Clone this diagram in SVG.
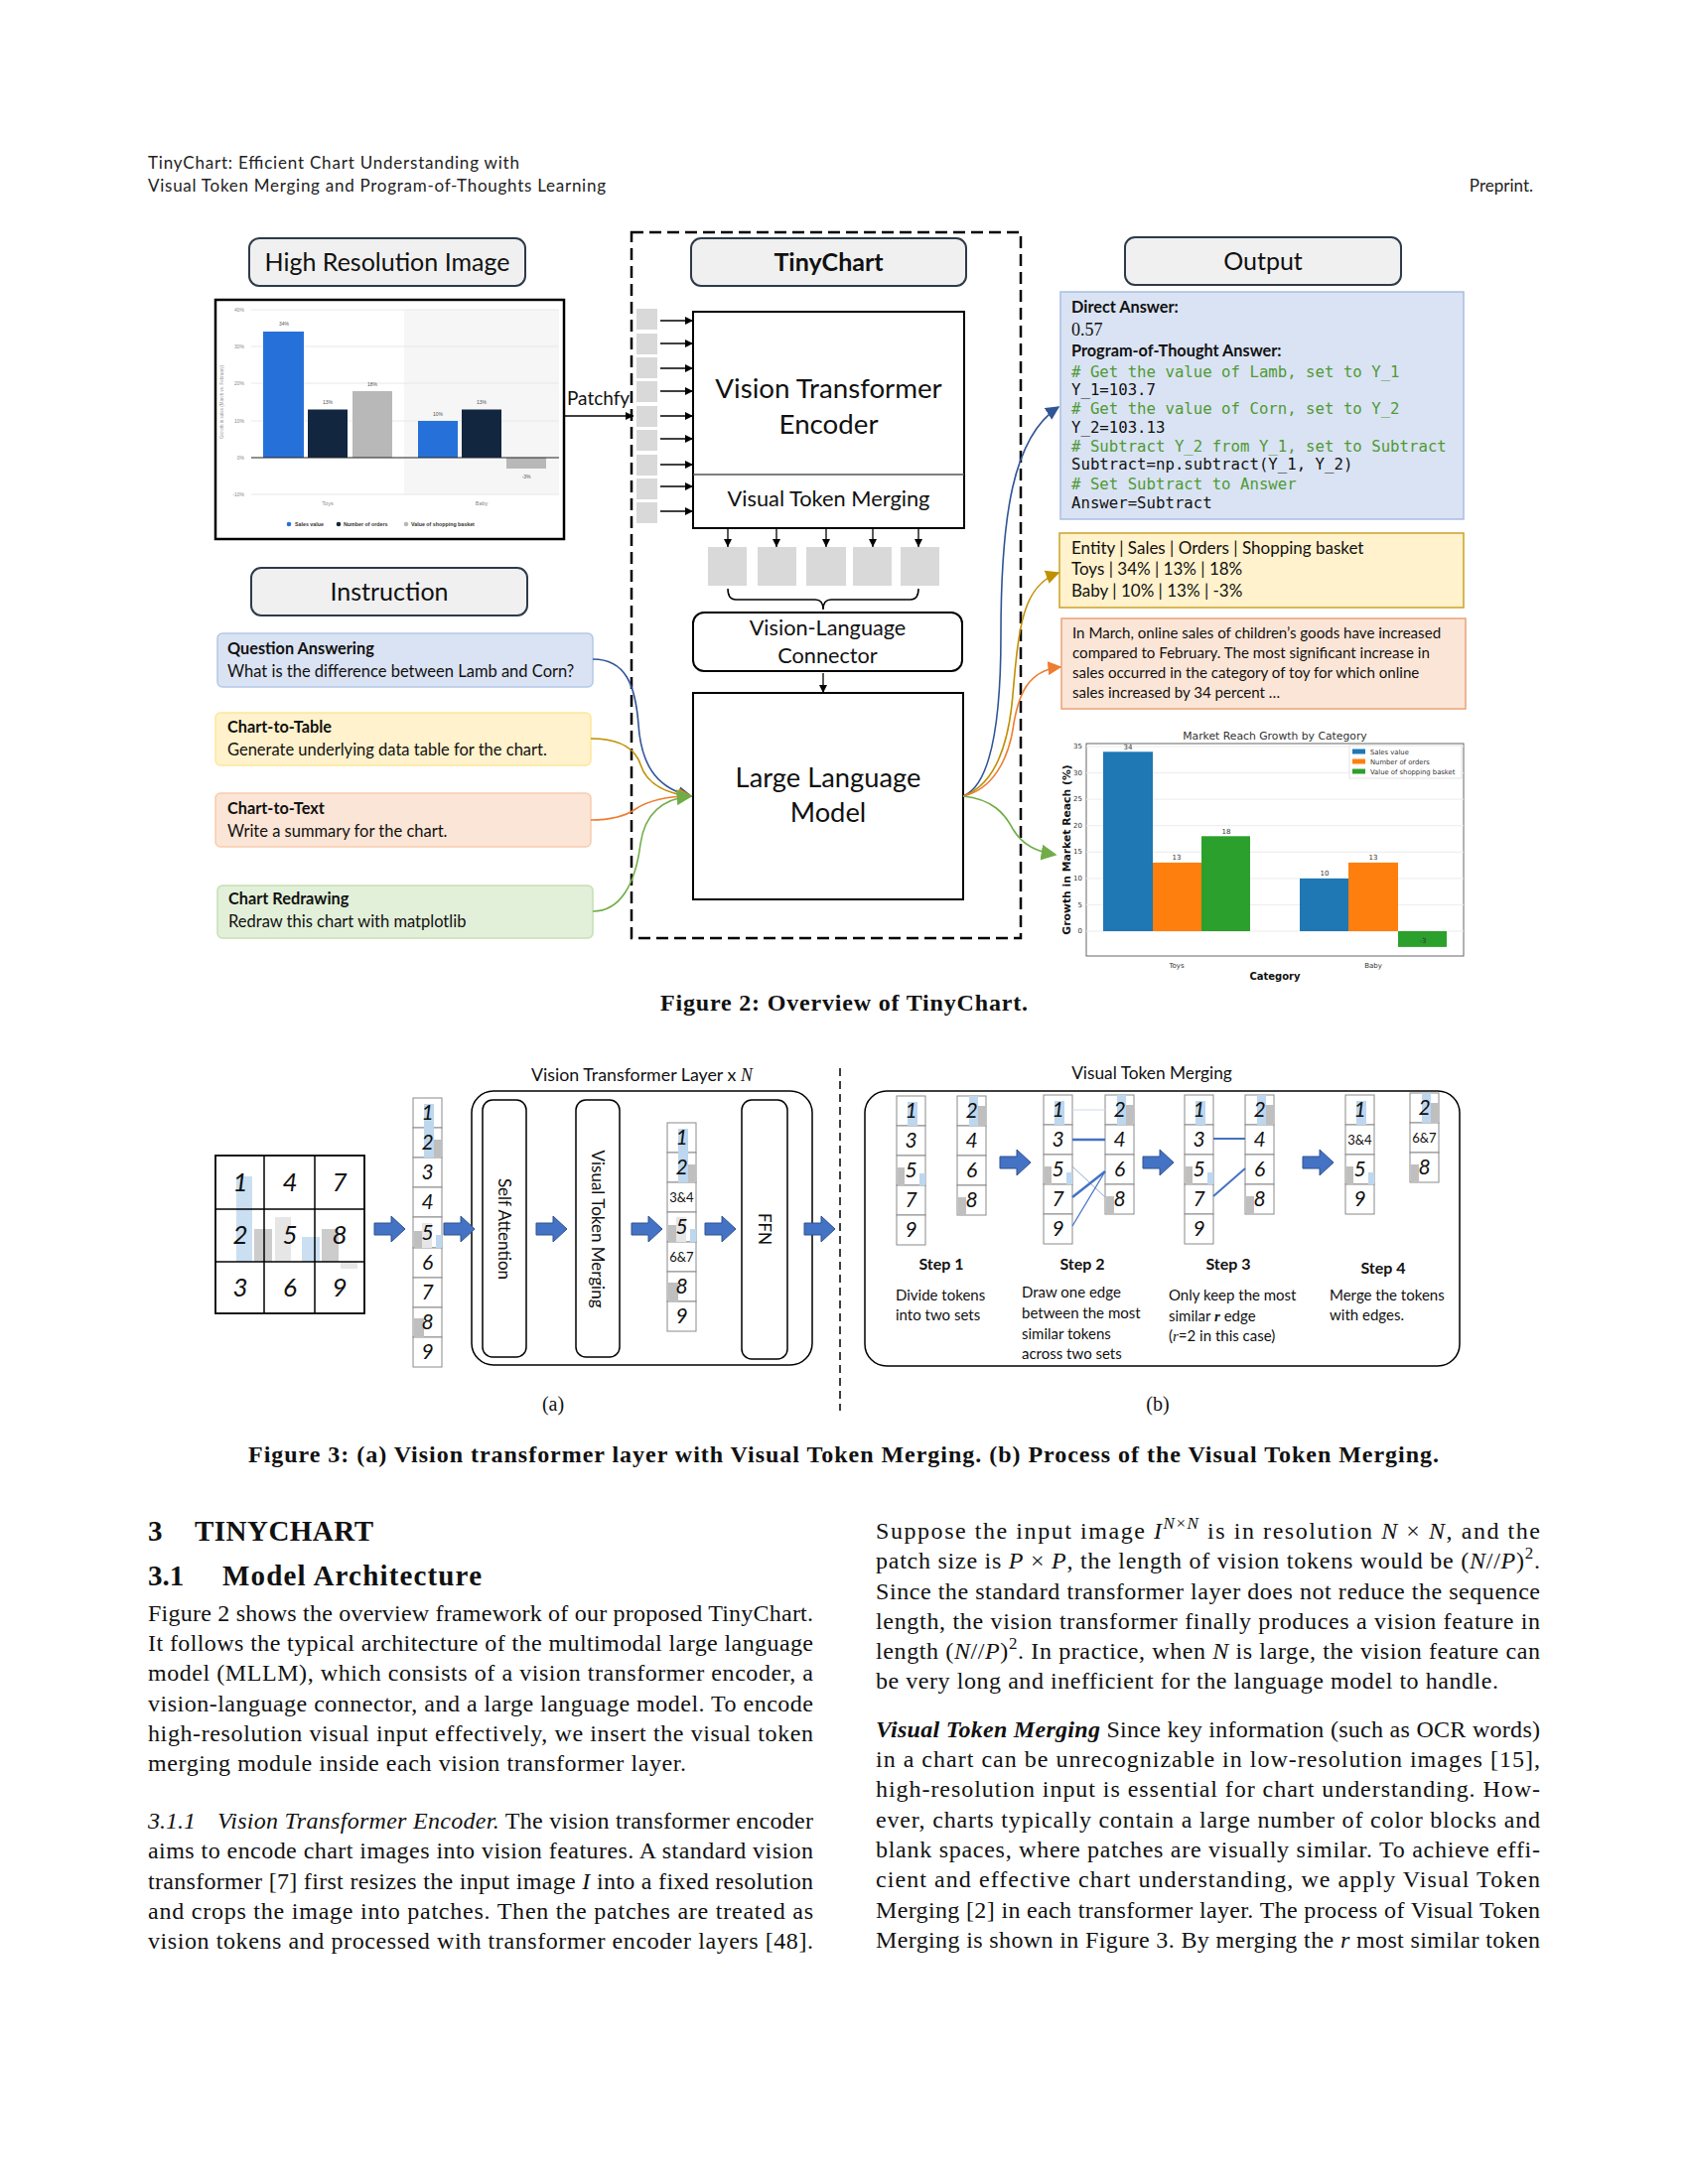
<svg xmlns="http://www.w3.org/2000/svg" xmlns:xlink="http://www.w3.org/1999/xlink" width="1700" height="2200" viewBox="0 0 1700 2200">
<style>
.sans{font-family:Lato,"Open Sans","Liberation Sans",sans-serif}
.serif{font-family:"Liberation Serif","Times New Roman",serif}
.mono{font-family:"DejaVu Sans Mono","Liberation Mono",monospace}
.dv{font-family:"DejaVu Sans","Liberation Sans",sans-serif}
.hdr{font-family:Lato,"Liberation Sans",sans-serif;font-size:17px;fill:#222}
.title{font-family:Lato,"Open Sans",sans-serif;font-size:25px;fill:#111;text-anchor:middle}
.tbox{fill:#f0f0f0;stroke:#2e3a4b;stroke-width:2}
.blk{fill:#fff;stroke:#000;stroke-width:2}
.patch{fill:#d9d9d9}
.tok{fill:#fff;stroke:#8a8a8a;stroke-width:1}
.num{font-family:Lato,"Open Sans",sans-serif;font-style:italic;font-size:21px;fill:#111;text-anchor:middle}
.mrg{font-family:Lato,"Open Sans",sans-serif;font-size:13px;fill:#111;text-anchor:middle}
.gnum{font-family:Lato,"Open Sans",sans-serif;font-style:italic;font-size:26px;fill:#111;text-anchor:middle}
.ib{font-family:Lato,"Open Sans",sans-serif;font-size:16.3px;font-weight:bold;fill:#111}
.ir{font-family:Lato,"Open Sans",sans-serif;font-size:16.5px;fill:#111}
.code{font-family:"DejaVu Sans Mono","Liberation Mono",monospace;font-size:15.7px;fill:#111}
.cmt{fill:#4f9a35}
.desc{font-family:Lato,"Open Sans",sans-serif;font-size:15px;fill:#111}
.step{font-family:Lato,"Open Sans",sans-serif;font-size:16px;font-weight:bold;fill:#111;text-anchor:middle}
.body{font-family:"Liberation Serif","Times New Roman",serif;font-size:24px;fill:#111}
.cap{font-family:"Liberation Serif","Times New Roman",serif;font-size:24px;font-weight:bold;fill:#111}
.tiny{font-family:"Liberation Sans",sans-serif;font-size:5px;fill:#555}
.mpl{font-family:"DejaVu Sans","Liberation Sans",sans-serif;font-size:7px;fill:#333}
.grid{stroke:#e8e8e8;stroke-width:1}
.curve{fill:none;stroke-width:1.6}
</style>
<defs>
<marker id="ah" viewBox="0 0 10 10" refX="10" refY="5" markerWidth="8" markerHeight="8" markerUnits="userSpaceOnUse" orient="auto"><path d="M0,0 L10,5 L0,10 z" fill="#000"/></marker>
<marker id="ahB" viewBox="0 0 10 10" refX="9" refY="5" markerWidth="14" markerHeight="14" markerUnits="userSpaceOnUse" orient="auto"><path d="M0,0 L10,5 L0,10 z" fill="#2f5597"/></marker>
<marker id="ahY" viewBox="0 0 10 10" refX="9" refY="5" markerWidth="14" markerHeight="14" markerUnits="userSpaceOnUse" orient="auto"><path d="M0,0 L10,5 L0,10 z" fill="#bf9000"/></marker>
<marker id="ahO" viewBox="0 0 10 10" refX="9" refY="5" markerWidth="14" markerHeight="14" markerUnits="userSpaceOnUse" orient="auto"><path d="M0,0 L10,5 L0,10 z" fill="#ed7d31"/></marker>
<marker id="ahG" viewBox="0 0 10 10" refX="9" refY="5" markerWidth="16" markerHeight="16" markerUnits="userSpaceOnUse" orient="auto"><path d="M0,0 L10,5 L0,10 z" fill="#70ad47"/></marker>
<path id="ba" d="M0,-6 H17 V-13 L31,0 L17,13 V6 H0 Z" fill="#4472c4" stroke="#2f528f" stroke-width="1"/>
</defs>
<rect width="1700" height="2200" fill="#fff"/>

<!-- Header -->
<g id="header">
<text x="149" y="170" class="hdr" textLength="374">TinyChart: Efficient Chart Understanding with</text>
<text x="149" y="193" class="hdr" textLength="461">Visual Token Merging and Program-of-Thoughts Learning</text>
<text x="1544" y="193" class="hdr" text-anchor="end">Preprint.</text>
</g>

<!-- ============ Figure 2 ============ -->
<g id="hri-title"><rect x="251" y="240" width="278" height="48" rx="10" class="tbox"/><text x="390" y="273" class="title">High Resolution Image</text></g>

<g id="input-chart">
<rect x="217" y="302" width="351" height="241" fill="#fff" stroke="#000" stroke-width="2.5"/>
<rect x="407" y="312" width="156" height="186" fill="#f6f6f6"/>
<line x1="253" y1="312" x2="563" y2="312" class="grid"/>
<line x1="253" y1="349" x2="563" y2="349" class="grid"/>
<line x1="253" y1="386" x2="563" y2="386" class="grid"/>
<line x1="253" y1="424" x2="563" y2="424" class="grid"/>
<line x1="253" y1="498" x2="563" y2="498" class="grid"/>
<g class="tiny" text-anchor="end" style="fill:#888"><text x="246" y="314">40%</text><text x="246" y="351">30%</text><text x="246" y="388">20%</text><text x="246" y="426">10%</text><text x="246" y="463">0%</text><text x="246" y="500">-10%</text></g>
<text transform="translate(225,405) rotate(-90)" class="tiny" text-anchor="middle" style="font-size:4.5px;fill:#999">Growth in sales (March vs. February)</text>
<rect x="265" y="334" width="41" height="127" fill="#2671d9"/>
<rect x="310" y="412.5" width="40" height="48.5" fill="#12263f"/>
<rect x="355" y="394" width="40" height="67" fill="#b8b8b8"/>
<rect x="421" y="424" width="40" height="37" fill="#2671d9"/>
<rect x="465" y="412.5" width="40" height="48.5" fill="#12263f"/>
<rect x="510" y="461" width="40" height="11" fill="#b8b8b8"/>
<line x1="253" y1="461" x2="563" y2="461" stroke="#222" stroke-width="1.2"/>
<g class="tiny" text-anchor="middle"><text x="286" y="328">34%</text><text x="330" y="407">13%</text><text x="375" y="389">18%</text><text x="441" y="419">10%</text><text x="485" y="407">13%</text><text x="530" y="482">-3%</text></g>
<g class="tiny" text-anchor="middle" style="fill:#888;font-size:5.5px"><text x="330" y="509">Toys</text><text x="485" y="509">Baby</text></g>
<circle cx="291" cy="528" r="2.3" fill="#2671d9"/><circle cx="341" cy="528" r="2.3" fill="#12263f"/><circle cx="409" cy="528" r="2.3" fill="#b8b8b8"/>
<g class="tiny" style="font-size:5.3px;fill:#333;font-weight:bold"><text x="297" y="530">Sales value</text><text x="346" y="530">Number of orders</text><text x="414" y="530">Value of shopping basket</text></g>
</g>

<g id="patchfy"><text x="571" y="408" class="sans" font-size="19" fill="#111">Patchfy</text></g>

<g id="tinychart-frame"><rect x="636" y="234" width="392" height="711" fill="none" stroke="#000" stroke-width="2.5" stroke-dasharray="12,6"/></g>
<g id="tinychart-title"><rect x="696" y="240" width="277" height="48" rx="10" class="tbox"/><text x="834.5" y="273" class="title" font-weight="bold">TinyChart</text></g>

<g id="patches">
<rect x="641" y="311" width="21" height="21" class="patch"/>
<rect x="641" y="336" width="21" height="21" class="patch"/>
<rect x="641" y="360" width="21" height="21" class="patch"/>
<rect x="641" y="384" width="21" height="21" class="patch"/>
<rect x="641" y="409" width="21" height="21" class="patch"/>
<rect x="641" y="433" width="21" height="21" class="patch"/>
<rect x="641" y="458" width="21" height="21" class="patch"/>
<rect x="641" y="482" width="21" height="21" class="patch"/>
<rect x="641" y="506" width="21" height="21" class="patch"/>
</g>

<g id="vit-encoder">
<rect x="698" y="314" width="273" height="218" class="blk"/>
<line x1="698" y1="478" x2="971" y2="478" stroke="#555" stroke-width="1.5"/>
<text x="834.5" y="401" class="title" style="font-size:27.7px">Vision Transformer</text>
<text x="834.5" y="437" class="title" style="font-size:27.7px">Encoder</text>
<text x="834.5" y="510" class="title" style="font-size:21.8px">Visual Token Merging</text>
</g>

<g id="out-tokens">
<rect x="713" y="551" width="39" height="39" class="patch"/>
<rect x="763" y="551" width="39" height="39" class="patch"/>
<rect x="812" y="551" width="40" height="39" class="patch"/>
<rect x="859" y="551" width="39" height="39" class="patch"/>
<rect x="907" y="551" width="39" height="39" class="patch"/>
</g>

<g id="vl-connector"><rect x="698" y="617" width="271" height="59" rx="11" fill="#fff" stroke="#000" stroke-width="2"/><text x="833.5" y="640" class="title" style="font-size:21.7px">Vision-Language</text><text x="833.5" y="668" class="title" style="font-size:21.7px">Connector</text></g>

<g id="llm"><rect x="698" y="698" width="272" height="208" class="blk"/><text x="834" y="793" class="title" style="font-size:27.3px">Large Language</text><text x="834" y="828" class="title" style="font-size:27.3px">Model</text></g>

<g id="instruction-title"><rect x="253" y="572" width="278" height="48" rx="10" class="tbox"/><text x="392" y="605" class="title">Instruction</text></g>

<g id="instr-qa"><rect x="219" y="638" width="378" height="54" rx="5" fill="#dae3f3" stroke="#b4c7e7" stroke-width="1.5"/><text x="229" y="659" class="ib">Question Answering</text><text x="229" y="682" class="ir">What is the difference between Lamb and Corn?</text></g>
<g id="instr-table"><rect x="217" y="718" width="378" height="53" rx="5" fill="#fff2cc" stroke="#ffe699" stroke-width="1.5"/><text x="229" y="738" class="ib">Chart-to-Table</text><text x="229" y="761" class="ir">Generate underlying data table for the chart.</text></g>
<g id="instr-text"><rect x="217" y="799" width="378" height="54" rx="5" fill="#fbe5d6" stroke="#f8cbad" stroke-width="1.5"/><text x="229" y="820" class="ib">Chart-to-Text</text><text x="229" y="843" class="ir">Write a summary for the chart.</text></g>
<g id="instr-redraw"><rect x="219" y="892" width="378" height="53" rx="5" fill="#e2f0d9" stroke="#c5e0b4" stroke-width="1.5"/><text x="230" y="911" class="ib">Chart Redrawing</text><text x="230" y="934" class="ir">Redraw this chart with matplotlib</text></g>

<g id="output-title"><rect x="1133" y="239" width="278" height="48" rx="10" class="tbox"/><text x="1272" y="272" class="title">Output</text></g>

<g id="out-qa">
<rect x="1068" y="294" width="406" height="229" fill="#dae3f3" stroke="#a9bde3" stroke-width="1.5"/>
<text x="1079" y="315" class="ib">Direct Answer:</text>
<text x="1079" y="338" class="serif" font-size="18" fill="#111">0.57</text>
<text x="1079" y="359" class="ib">Program-of-Thought Answer:</text>
<text x="1079" y="380" class="code cmt"># Get the value of Lamb, set to Y_1</text>
<text x="1079" y="398" class="code">Y_1=103.7</text>
<text x="1079" y="417" class="code cmt"># Get the value of Corn, set to Y_2</text>
<text x="1079" y="436" class="code">Y_2=103.13</text>
<text x="1079" y="455" class="code cmt"># Subtract Y_2 from Y_1, set to Subtract</text>
<text x="1079" y="473" class="code">Subtract=np.subtract(Y_1, Y_2)</text>
<text x="1079" y="493" class="code cmt"># Set Subtract to Answer</text>
<text x="1079" y="512" class="code">Answer=Subtract</text>
</g>

<g id="out-table">
<rect x="1067" y="537" width="407" height="75" fill="#fff2cc" stroke="#c9a227" stroke-width="1.5"/>
<g class="sans" font-size="17" fill="#111">
<text x="1079" y="558">Entity | Sales | Orders | Shopping basket</text>
<text x="1079" y="579">Toys | 34% | 13% | 18%</text>
<text x="1079" y="601">Baby | 10% | 13% | -3%</text>
</g>
</g>

<g id="out-text">
<rect x="1069" y="623" width="407" height="91" fill="#fbe5d6" stroke="#e9a27a" stroke-width="1.5"/>
<g class="sans" font-size="15.1" fill="#111">
<text x="1080" y="643">In March, online sales of children’s goods have increased</text>
<text x="1080" y="663">compared to February. The most significant increase in</text>
<text x="1080" y="683">sales occurred in the category of toy for which online</text>
<text x="1080" y="703">sales increased by 34 percent …</text>
</g>
</g>

<g id="out-chart">
<text x="1284" y="745" class="dv" font-size="10.8" fill="#333" text-anchor="middle">Market Reach Growth by Category</text>
<rect x="1094" y="749" width="380" height="214" fill="#fff" stroke="#666" stroke-width="1"/>
<g class="grid" style="stroke:#ececec"><line x1="1094" y1="752" x2="1474" y2="752"/><line x1="1094" y1="778.6" x2="1474" y2="778.6"/><line x1="1094" y1="805.1" x2="1474" y2="805.1"/><line x1="1094" y1="831.7" x2="1474" y2="831.7"/><line x1="1094" y1="858.3" x2="1474" y2="858.3"/><line x1="1094" y1="884.9" x2="1474" y2="884.9"/><line x1="1094" y1="911.4" x2="1474" y2="911.4"/><line x1="1094" y1="938" x2="1474" y2="938"/></g>
<g class="mpl" text-anchor="end"><text x="1090" y="754">35</text><text x="1090" y="781">30</text><text x="1090" y="807">25</text><text x="1090" y="834">20</text><text x="1090" y="860">15</text><text x="1090" y="887">10</text><text x="1090" y="914">5</text><text x="1090" y="940">0</text></g>
<rect x="1111" y="757.3" width="50" height="180.7" fill="#1f77b4"/>
<rect x="1161" y="868.9" width="49" height="69.1" fill="#ff7f0e"/>
<rect x="1210" y="842.3" width="49" height="95.7" fill="#2ca02c"/>
<rect x="1309" y="884.9" width="49" height="53.1" fill="#1f77b4"/>
<rect x="1358" y="868.9" width="50" height="69.1" fill="#ff7f0e"/>
<rect x="1408" y="938" width="49" height="15.9" fill="#2ca02c"/>
<g class="mpl" text-anchor="middle"><text x="1136" y="755">34</text><text x="1185" y="866">13</text><text x="1235" y="840">18</text><text x="1334" y="882">10</text><text x="1383" y="866">13</text><text x="1433" y="950">-3</text><text x="1185" y="975">Toys</text><text x="1383" y="975">Baby</text></g>
<text transform="translate(1078,856) rotate(-90)" class="dv" font-size="10.8" font-weight="bold" fill="#111" text-anchor="middle">Growth in Market Reach (%)</text>
<text x="1284" y="987" class="dv" font-size="10" font-weight="bold" fill="#111" text-anchor="middle">Category</text>
<rect x="1359" y="751" width="113" height="33" fill="#fff" stroke="#ddd" stroke-width="0.8"/>
<rect x="1362" y="754.5" width="13" height="5" fill="#1f77b4"/><rect x="1362" y="764.5" width="13" height="5" fill="#ff7f0e"/><rect x="1362" y="774.5" width="13" height="5" fill="#2ca02c"/>
<g class="mpl" style="font-size:6.8px"><text x="1380" y="760">Sales value</text><text x="1380" y="770">Number of orders</text><text x="1380" y="780">Value of shopping basket</text></g>
</g>

<g id="connectors-fig2">
<line x1="568" y1="419" x2="638" y2="419" stroke="#000" stroke-width="1.3" marker-end="url(#ah)"/>
<g stroke="#000" stroke-width="1.3">
<line x1="665" y1="323" x2="698" y2="323" marker-end="url(#ah)"/>
<line x1="665" y1="346" x2="698" y2="346" marker-end="url(#ah)"/>
<line x1="665" y1="371" x2="698" y2="371" marker-end="url(#ah)"/>
<line x1="665" y1="394" x2="698" y2="394" marker-end="url(#ah)"/>
<line x1="665" y1="419" x2="698" y2="419" marker-end="url(#ah)"/>
<line x1="665" y1="442" x2="698" y2="442" marker-end="url(#ah)"/>
<line x1="665" y1="468" x2="698" y2="468" marker-end="url(#ah)"/>
<line x1="665" y1="490" x2="698" y2="490" marker-end="url(#ah)"/>
<line x1="665" y1="515" x2="698" y2="515" marker-end="url(#ah)"/>
<line x1="733" y1="532" x2="733" y2="551" marker-end="url(#ah)"/>
<line x1="782" y1="532" x2="782" y2="551" marker-end="url(#ah)"/>
<line x1="832" y1="532" x2="832" y2="551" marker-end="url(#ah)"/>
<line x1="879" y1="532" x2="879" y2="551" marker-end="url(#ah)"/>
<line x1="925" y1="532" x2="925" y2="551" marker-end="url(#ah)"/>
<line x1="829" y1="678" x2="829" y2="698" marker-end="url(#ah)"/>
</g>
<path d="M733,593 Q733,604 741,604 H821 Q829,604 829,614 Q829,604 837,604 H917 Q925,604 925,593" fill="none" stroke="#000" stroke-width="1.5"/>
<path d="M597,664 C630,664 640,690 643,730 C646,775 665,795 696,802" class="curve" stroke="#2f5597" marker-end="url(#ahB)"/>
<path d="M595,744 C625,744 640,755 645,770 C652,792 675,800 696,802" class="curve" stroke="#bf9000" marker-end="url(#ahY)"/>
<path d="M595,826 C615,826 630,822 640,815 C655,805 675,802 696,802" class="curve" stroke="#ed7d31" marker-end="url(#ahO)"/>
<path d="M597,918 C625,918 640,890 645,850 C650,815 672,804 696,802" class="curve" stroke="#70ad47" marker-end="url(#ahG)"/>
<path d="M970,802 C1000,790 1008,720 1008,640 C1008,520 1020,440 1066,410" class="curve" stroke="#2f5597" marker-end="url(#ahB)"/>
<path d="M970,802 C998,792 1015,760 1020,700 C1026,630 1030,590 1066,577" class="curve" stroke="#bf9000" marker-end="url(#ahY)"/>
<path d="M970,802 C1000,795 1015,765 1020,735 C1025,700 1035,675 1068,672" class="curve" stroke="#ed7d31" marker-end="url(#ahO)"/>
<path d="M970,802 C1000,805 1012,820 1020,835 C1030,852 1045,858 1063,861" class="curve" stroke="#70ad47" marker-end="url(#ahG)"/>
</g>

<g id="caption-fig2"><text x="850" y="1018" class="cap" text-anchor="middle" textLength="370">Figure 2: Overview of TinyChart.</text></g>

<!-- ============ Figure 3 (a) ============ -->
<g id="fig3a-title"><text x="535" y="1089" class="sans" font-size="17.8" fill="#111">Vision Transformer Layer x <tspan class="serif" font-style="italic">N</tspan></text></g>

<g id="grid3x3">
<rect x="238" y="1185" width="16" height="86" fill="#bdd7ee" opacity="0.8"/>
<rect x="256" y="1238" width="18" height="33" fill="#bfbfbf" opacity="0.8"/>
<rect x="277" y="1226" width="16" height="45" fill="#e7e6e6"/>
<rect x="304" y="1246" width="18" height="25" fill="#bdd7ee" opacity="0.8"/>
<rect x="324" y="1238" width="17" height="33" fill="#bfbfbf" opacity="0.8"/>
<rect x="343" y="1271" width="17" height="7" fill="#e7e6e6"/>
<rect x="217" y="1164" width="150" height="159" fill="none" stroke="#000" stroke-width="1.8"/>
<line x1="266" y1="1164" x2="266" y2="1323" stroke="#000" stroke-width="1.5"/>
<line x1="317" y1="1164" x2="317" y2="1323" stroke="#000" stroke-width="1.5"/>
<line x1="217" y1="1218" x2="367" y2="1218" stroke="#000" stroke-width="1.5"/>
<line x1="217" y1="1271" x2="367" y2="1271" stroke="#000" stroke-width="1.5"/>
<text x="242" y="1200" class="gnum">1</text><text x="292" y="1200" class="gnum">4</text><text x="342" y="1200" class="gnum">7</text>
<text x="242" y="1253" class="gnum">2</text><text x="292" y="1253" class="gnum">5</text><text x="342" y="1253" class="gnum">8</text>
<text x="242" y="1306" class="gnum">3</text><text x="292" y="1306" class="gnum">6</text><text x="342" y="1306" class="gnum">9</text>
</g>

<g id="tokens-a1">
<rect x="416" y="1106" width="29" height="30" class="tok"/><rect x="416" y="1136" width="29" height="30" class="tok"/><rect x="416" y="1166" width="29" height="30" class="tok"/><rect x="416" y="1196" width="29" height="30" class="tok"/><rect x="416" y="1226" width="29" height="31" class="tok"/><rect x="416" y="1257" width="29" height="30" class="tok"/><rect x="416" y="1287" width="29" height="30" class="tok"/><rect x="416" y="1317" width="29" height="30" class="tok"/><rect x="416" y="1347" width="29" height="30" class="tok"/>
<rect x="427" y="1112" width="10" height="24" fill="#bdd7ee"/><rect x="427" y="1136" width="10" height="30" fill="#bdd7ee"/><rect x="437" y="1148" width="8" height="18" fill="#bfbfbf"/>
<rect x="417" y="1240" width="8" height="17" fill="#bfbfbf"/><rect x="425" y="1232" width="10" height="25" fill="#e7e6e6"/><rect x="439" y="1244" width="6" height="13" fill="#bdd7ee"/>
<rect x="417" y="1328" width="10" height="19" fill="#bfbfbf"/>
<text x="430.5" y="1128" class="num">1</text><text x="430.5" y="1158" class="num">2</text><text x="430.5" y="1188" class="num">3</text><text x="430.5" y="1218" class="num">4</text><text x="430.5" y="1249" class="num">5</text><text x="430.5" y="1279" class="num">6</text><text x="430.5" y="1309" class="num">7</text><text x="430.5" y="1339" class="num">8</text><text x="430.5" y="1369" class="num">9</text>
</g>

<g id="vit-layer">
<rect x="475" y="1099" width="343" height="276" rx="22" fill="none" stroke="#000" stroke-width="1.5"/>
</g>
<g id="self-attention"><rect x="486" y="1108" width="44" height="259" rx="10" fill="#fff" stroke="#000" stroke-width="1.5"/><text transform="translate(508,1238) rotate(90)" class="sans" font-size="17" fill="#111" text-anchor="middle" dominant-baseline="central">Self Attention</text></g>
<g id="vtm-block"><rect x="580" y="1108" width="44" height="259" rx="10" fill="#fff" stroke="#000" stroke-width="1.5"/><text transform="translate(602,1238) rotate(90)" class="sans" font-size="17" fill="#111" text-anchor="middle" dominant-baseline="central">Visual Token Merging</text></g>

<g id="tokens-a2">
<rect x="672" y="1131" width="29" height="30" class="tok"/><rect x="672" y="1161" width="29" height="30" class="tok"/><rect x="672" y="1191" width="29" height="30" class="tok"/><rect x="672" y="1221" width="29" height="30" class="tok"/><rect x="672" y="1251" width="29" height="30" class="tok"/><rect x="672" y="1281" width="29" height="30" class="tok"/><rect x="672" y="1311" width="29" height="30" class="tok"/>
<rect x="683" y="1137" width="10" height="24" fill="#bdd7ee"/><rect x="683" y="1161" width="10" height="30" fill="#bdd7ee"/><rect x="693" y="1173" width="8" height="18" fill="#bfbfbf"/>
<rect x="673" y="1234" width="8" height="17" fill="#bfbfbf"/><rect x="681" y="1226" width="10" height="25" fill="#e7e6e6"/><rect x="695" y="1238" width="6" height="13" fill="#bdd7ee"/>
<rect x="673" y="1292" width="10" height="19" fill="#bfbfbf"/>
<text x="686.5" y="1153" class="num">1</text><text x="686.5" y="1183" class="num">2</text><text x="686.5" y="1211" class="mrg">3&amp;4</text><text x="686.5" y="1243" class="num">5</text><text x="686.5" y="1271" class="mrg">6&amp;7</text><text x="686.5" y="1303" class="num">8</text><text x="686.5" y="1333" class="num">9</text>
</g>

<g id="ffn"><rect x="747" y="1108" width="46" height="261" rx="10" fill="#fff" stroke="#000" stroke-width="1.5"/><text transform="translate(770,1238) rotate(90)" class="sans" font-size="17" fill="#111" text-anchor="middle" dominant-baseline="central">FFN</text></g>

<g id="fig3a-label"><text x="557" y="1421" class="serif" font-size="20" fill="#111" text-anchor="middle">(a)</text></g>

<g id="separator"><line x1="846" y1="1076" x2="846" y2="1421" stroke="#000" stroke-width="1.5" stroke-dasharray="8,5"/></g>

<!-- ============ Figure 3 (b) ============ -->
<g id="fig3b-title"><text x="1160" y="1087" class="sans" font-size="17.3" fill="#111" text-anchor="middle">Visual Token Merging</text></g>
<g id="vtm-process"><rect x="871" y="1099" width="599" height="277" rx="22" fill="none" stroke="#000" stroke-width="1.5"/></g>

<g id="step1">
<rect x="903" y="1104" width="29" height="30" class="tok"/><rect x="903" y="1134" width="29" height="30" class="tok"/><rect x="903" y="1164" width="29" height="30" class="tok"/><rect x="903" y="1194" width="29" height="30" class="tok"/><rect x="903" y="1224" width="29" height="30" class="tok"/>
<rect x="964" y="1104" width="29" height="30" class="tok"/><rect x="964" y="1134" width="29" height="30" class="tok"/><rect x="964" y="1164" width="29" height="30" class="tok"/><rect x="964" y="1194" width="29" height="30" class="tok"/>
<rect x="914" y="1110" width="10" height="24" fill="#bdd7ee"/><rect x="904" y="1176" width="7" height="18" fill="#bfbfbf"/><rect x="926" y="1182" width="6" height="12" fill="#bdd7ee"/>
<rect x="976" y="1104" width="9" height="30" fill="#bdd7ee"/><rect x="985" y="1114" width="8" height="20" fill="#bfbfbf"/><rect x="965" y="1206" width="8" height="18" fill="#bfbfbf"/>
<text x="917.5" y="1126" class="num">1</text><text x="917.5" y="1156" class="num">3</text><text x="917.5" y="1186" class="num">5</text><text x="917.5" y="1216" class="num">7</text><text x="917.5" y="1246" class="num">9</text>
<text x="978.5" y="1126" class="num">2</text><text x="978.5" y="1156" class="num">4</text><text x="978.5" y="1186" class="num">6</text><text x="978.5" y="1216" class="num">8</text>
<text x="948" y="1279" class="step">Step 1</text>
<text x="902" y="1310" class="desc">Divide tokens</text><text x="902" y="1330" class="desc">into two sets</text>
</g>

<g id="step2">
<rect x="1051" y="1103" width="29" height="30" class="tok"/><rect x="1051" y="1133" width="29" height="30" class="tok"/><rect x="1051" y="1163" width="29" height="30" class="tok"/><rect x="1051" y="1193" width="29" height="30" class="tok"/><rect x="1051" y="1223" width="29" height="30" class="tok"/>
<rect x="1113" y="1103" width="29" height="30" class="tok"/><rect x="1113" y="1133" width="29" height="30" class="tok"/><rect x="1113" y="1163" width="29" height="30" class="tok"/><rect x="1113" y="1193" width="29" height="30" class="tok"/>
<rect x="1062" y="1109" width="10" height="24" fill="#bdd7ee"/><rect x="1052" y="1175" width="7" height="18" fill="#bfbfbf"/><rect x="1074" y="1181" width="6" height="12" fill="#bdd7ee"/>
<rect x="1125" y="1103" width="9" height="30" fill="#bdd7ee"/><rect x="1134" y="1113" width="8" height="20" fill="#bfbfbf"/><rect x="1114" y="1205" width="8" height="18" fill="#bfbfbf"/>
<text x="1065.5" y="1125" class="num">1</text><text x="1065.5" y="1155" class="num">3</text><text x="1065.5" y="1185" class="num">5</text><text x="1065.5" y="1215" class="num">7</text><text x="1065.5" y="1245" class="num">9</text>
<text x="1127.5" y="1125" class="num">2</text><text x="1127.5" y="1155" class="num">4</text><text x="1127.5" y="1185" class="num">6</text><text x="1127.5" y="1215" class="num">8</text>
<text x="1090" y="1279" class="step">Step 2</text>
<text x="1029" y="1307" class="desc">Draw one edge</text><text x="1029" y="1328" class="desc">between the most</text><text x="1029" y="1349" class="desc">similar tokens</text><text x="1029" y="1369" class="desc">across two sets</text>
</g>

<g id="step3">
<rect x="1193" y="1103" width="29" height="30" class="tok"/><rect x="1193" y="1133" width="29" height="30" class="tok"/><rect x="1193" y="1163" width="29" height="30" class="tok"/><rect x="1193" y="1193" width="29" height="30" class="tok"/><rect x="1193" y="1223" width="29" height="30" class="tok"/>
<rect x="1254" y="1103" width="29" height="30" class="tok"/><rect x="1254" y="1133" width="29" height="30" class="tok"/><rect x="1254" y="1163" width="29" height="30" class="tok"/><rect x="1254" y="1193" width="29" height="30" class="tok"/>
<rect x="1204" y="1109" width="10" height="24" fill="#bdd7ee"/><rect x="1194" y="1175" width="7" height="18" fill="#bfbfbf"/><rect x="1216" y="1181" width="6" height="12" fill="#bdd7ee"/>
<rect x="1266" y="1103" width="9" height="30" fill="#bdd7ee"/><rect x="1275" y="1113" width="8" height="20" fill="#bfbfbf"/><rect x="1255" y="1205" width="8" height="18" fill="#bfbfbf"/>
<text x="1207.5" y="1125" class="num">1</text><text x="1207.5" y="1155" class="num">3</text><text x="1207.5" y="1185" class="num">5</text><text x="1207.5" y="1215" class="num">7</text><text x="1207.5" y="1245" class="num">9</text>
<text x="1268.5" y="1125" class="num">2</text><text x="1268.5" y="1155" class="num">4</text><text x="1268.5" y="1185" class="num">6</text><text x="1268.5" y="1215" class="num">8</text>
<text x="1237" y="1279" class="step">Step 3</text>
<text x="1177" y="1310" class="desc">Only keep the most</text><text x="1177" y="1331" class="desc">similar <tspan class="serif" font-style="italic" font-weight="bold">r</tspan> edge</text><text x="1177" y="1351" class="desc">(<tspan class="serif" font-style="italic">r</tspan>=2 in this case)</text>
</g>

<g id="step4">
<rect x="1355" y="1103" width="29" height="30" class="tok"/><rect x="1355" y="1133" width="29" height="30" class="tok"/><rect x="1355" y="1163" width="29" height="30" class="tok"/><rect x="1355" y="1193" width="29" height="30" class="tok"/>
<rect x="1420" y="1101" width="29" height="30" class="tok"/><rect x="1420" y="1131" width="29" height="30" class="tok"/><rect x="1420" y="1161" width="29" height="30" class="tok"/>
<rect x="1366" y="1109" width="10" height="24" fill="#bdd7ee"/><rect x="1356" y="1175" width="7" height="18" fill="#bfbfbf"/><rect x="1378" y="1181" width="6" height="12" fill="#bdd7ee"/>
<rect x="1432" y="1101" width="9" height="30" fill="#bdd7ee"/><rect x="1441" y="1111" width="8" height="20" fill="#bfbfbf"/><rect x="1421" y="1173" width="8" height="18" fill="#bfbfbf"/>
<text x="1369.5" y="1125" class="num">1</text><text x="1369.5" y="1153" class="mrg">3&amp;4</text><text x="1369.5" y="1185" class="num">5</text><text x="1369.5" y="1215" class="num">9</text>
<text x="1434.5" y="1123" class="num">2</text><text x="1434.5" y="1151" class="mrg">6&amp;7</text><text x="1434.5" y="1183" class="num">8</text>
<text x="1393" y="1283" class="step">Step 4</text>
<text x="1339" y="1310" class="desc">Merge the tokens</text><text x="1339" y="1330" class="desc">with edges.</text>
</g>

<g id="fig3b-label"><text x="1166" y="1421" class="serif" font-size="20" fill="#111" text-anchor="middle">(b)</text></g>

<g id="connectors-fig3">
<use href="#ba" x="377" y="1238"/>
<use href="#ba" x="447" y="1238"/>
<use href="#ba" x="540" y="1238"/>
<use href="#ba" x="636" y="1238"/>
<use href="#ba" x="710" y="1238"/>
<use href="#ba" x="810" y="1238"/>
<use href="#ba" x="1007" y="1171"/>
<use href="#ba" x="1151" y="1171"/>
<use href="#ba" x="1312" y="1171"/>
<line x1="1080" y1="1118" x2="1113" y2="1118" stroke="#d0d8ea" stroke-width="1"/>
<line x1="1080" y1="1148" x2="1113" y2="1148" stroke="#4472c4" stroke-width="2.5"/>
<line x1="1080" y1="1175" x2="1113" y2="1206" stroke="#8faadc" stroke-width="1"/>
<line x1="1080" y1="1206" x2="1113" y2="1180" stroke="#4472c4" stroke-width="2.5"/>
<line x1="1080" y1="1235" x2="1113" y2="1180" stroke="#4472c4" stroke-width="1.3"/>
<line x1="1222" y1="1147" x2="1254" y2="1147" stroke="#4472c4" stroke-width="2"/>
<line x1="1222" y1="1205" x2="1254" y2="1177" stroke="#4472c4" stroke-width="2"/>
</g>

<g id="caption-fig3"><text x="250" y="1473" class="cap" textLength="1199">Figure 3: (a) Vision transformer layer with Visual Token Merging. (b) Process of the Visual Token Merging.</text></g>

<!-- ============ Body text ============ -->
<g id="body-left">
<text x="149" y="1552" class="serif" font-size="29" font-weight="bold" fill="#111">3</text>
<text x="196" y="1552" class="serif" font-size="29" font-weight="bold" fill="#111" textLength="180">TINYCHART</text>
<text x="149" y="1597" class="serif" font-size="29" font-weight="bold" fill="#111">3.1</text>
<text x="224" y="1597" class="serif" font-size="29" font-weight="bold" fill="#111" textLength="261">Model Architecture</text>
<text x="149" y="1633" class="body" textLength="670">Figure 2 shows the overview framework of our proposed TinyChart.</text>
<text x="149" y="1663" class="body" textLength="670">It follows the typical architecture of the multimodal large language</text>
<text x="149" y="1693" class="body" textLength="670">model (MLLM), which consists of a vision transformer encoder, a</text>
<text x="149" y="1724" class="body" textLength="670">vision-language connector, and a large language model. To encode</text>
<text x="149" y="1754" class="body" textLength="670">high-resolution visual input effectively, we insert the visual token</text>
<text x="149" y="1784" class="body" textLength="542">merging module inside each vision transformer layer.</text>
<text x="149" y="1842" class="body" font-style="italic">3.1.1</text>
<text x="219" y="1842" class="body" textLength="600"><tspan font-style="italic">Vision Transformer Encoder.</tspan> The vision transformer encoder</text>
<text x="149" y="1872" class="body" textLength="670">aims to encode chart images into vision features. A standard vision</text>
<text x="149" y="1903" class="body" textLength="670">transformer [7] first resizes the input image <tspan font-style="italic">I</tspan> into a fixed resolution</text>
<text x="149" y="1933" class="body" textLength="670">and crops the image into patches. Then the patches are treated as</text>
<text x="149" y="1963" class="body" textLength="670">vision tokens and processed with transformer encoder layers [48].</text>
</g>

<g id="body-right">
<text x="882" y="1550" class="body" textLength="669">Suppose the input image <tspan font-style="italic">I</tspan><tspan dy="-10" font-size="17" font-style="italic">N</tspan><tspan dy="0" font-size="17">×</tspan><tspan font-size="17" font-style="italic">N</tspan><tspan dy="10"> is in resolution </tspan><tspan font-style="italic">N</tspan> × <tspan font-style="italic">N</tspan>, and the</text>
<text x="882" y="1580" class="body" textLength="669">patch size is <tspan font-style="italic">P</tspan> × <tspan font-style="italic">P</tspan>, the length of vision tokens would be (<tspan font-style="italic">N</tspan>//<tspan font-style="italic">P</tspan>)<tspan dy="-10" font-size="17">2</tspan><tspan dy="10">.</tspan></text>
<text x="882" y="1611" class="body" textLength="669">Since the standard transformer layer does not reduce the sequence</text>
<text x="882" y="1641" class="body" textLength="669">length, the vision transformer finally produces a vision feature in</text>
<text x="882" y="1671" class="body" textLength="669">length (<tspan font-style="italic">N</tspan>//<tspan font-style="italic">P</tspan>)<tspan dy="-10" font-size="17">2</tspan><tspan dy="10">. In practice, when </tspan><tspan font-style="italic">N</tspan> is large, the vision feature can</text>
<text x="882" y="1701" class="body" textLength="627">be very long and inefficient for the language model to handle.</text>
<text x="882" y="1750" class="body" textLength="669"><tspan font-style="italic" font-weight="bold">Visual Token Merging</tspan> Since key information (such as OCR words)</text>
<text x="882" y="1780" class="body" textLength="669">in a chart can be unrecognizable in low-resolution images [15],</text>
<text x="882" y="1810" class="body" textLength="669">high-resolution input is essential for chart understanding. How-</text>
<text x="882" y="1841" class="body" textLength="669">ever, charts typically contain a large number of color blocks and</text>
<text x="882" y="1871" class="body" textLength="669">blank spaces, where patches are visually similar. To achieve effi-</text>
<text x="882" y="1901" class="body" textLength="669">cient and effective chart understanding, we apply Visual Token</text>
<text x="882" y="1932" class="body" textLength="669">Merging [2] in each transformer layer. The process of Visual Token</text>
<text x="882" y="1962" class="body" textLength="669">Merging is shown in Figure 3. By merging the <tspan font-style="italic">r</tspan> most similar token</text>
</g>
</svg>
